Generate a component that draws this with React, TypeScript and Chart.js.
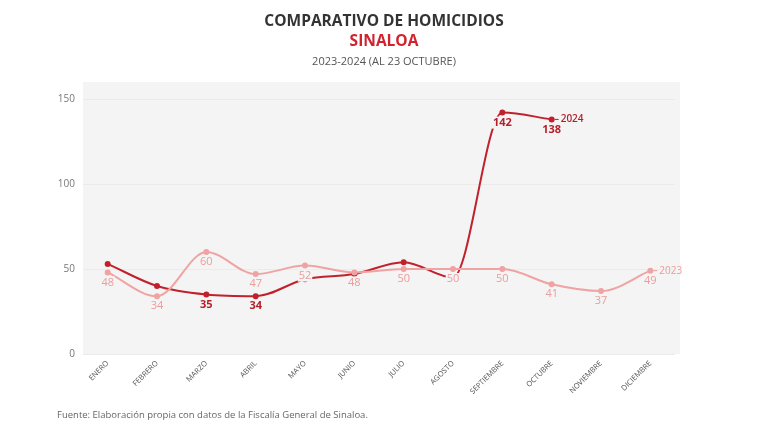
import React, { useEffect, useRef } from "react";
import { Chart, registerables } from "chart.js";

Chart.register(...registerables);

const months = ["ENERO", "FEBRERO", "MARZO", "ABRIL", "MAYO", "JUNIO", "JULIO", "AGOSTO", "SEPTIEMBRE", "OCTUBRE", "NOVIEMBRE", "DICIEMBRE"];
const values2024: (number | null)[] = [53, 40, 35, 34, 44, 47, 54, 45, 142, 138, null, null];
const values2023 = [48, 34, 60, 47, 52, 48, 50, 50, 50, 41, 37, 49];
const labeled2024 = [2, 3, 8, 9];
const yTicks = [0, 50, 100, 150];

const COLOR_2024 = "#c0212c";
const COLOR_2023 = "#f0a3a3";
const PLOT_BG = "#f4f4f4";
const FONT = "'Open Sans', 'Noto Sans', sans-serif";

const bgPlugin = {
  id: "plotBg",
  beforeDraw(chart: any) {
    const { ctx, chartArea } = chart;
    ctx.save();
    ctx.fillStyle = PLOT_BG;
    ctx.fillRect(chartArea.left, chartArea.top, chartArea.right - chartArea.left + 5, chartArea.bottom - chartArea.top);
    ctx.restore();
  },
};

const labelPlugin = {
  id: "valueLabels",
  afterDatasetsDraw(chart: any) {
    const { ctx } = chart;
    ctx.save();
    ctx.textAlign = "center";
    ctx.textBaseline = "middle";
    const drawLabel = (text: string, x: number, y: number, font: string, color: string) => {
      ctx.font = font;
      const w = ctx.measureText(text).width;
      ctx.fillStyle = PLOT_BG;
      ctx.fillRect(x - w / 2 - 1, y - 6, w + 2, 12);
      ctx.fillStyle = color;
      ctx.fillText(text, x, y);
    };
    const meta23 = chart.getDatasetMeta(0);
    meta23.data.forEach((pt: any, i: number) => {
      drawLabel(String(values2023[i]), pt.x, pt.y + 10, `11px ${FONT}`, "#eb9c9c");
    });
    const meta24 = chart.getDatasetMeta(1);
    labeled2024.forEach((i) => {
      const pt = meta24.data[i];
      const v = values2024[i];
      if (v == null) return;
      drawLabel(String(v), pt.x, pt.y + 10, `bold 11px ${FONT}`, "#b51f2a");
    });
    const endLabel = (meta: any, idx: number, text: string, color: string, bold: boolean) => {
      const pt = meta.data[idx];
      ctx.strokeStyle = color;
      ctx.lineWidth = 1;
      ctx.beginPath();
      ctx.moveTo(pt.x + 3, pt.y);
      ctx.lineTo(pt.x + 7, pt.y);
      ctx.stroke();
      ctx.font = `${bold ? "600 " : ""}10px ${FONT}`;
      ctx.textAlign = "left";
      ctx.fillStyle = color;
      ctx.fillText(text, pt.x + 9, pt.y);
    };
    endLabel(meta24, 9, "2024", "#b51f2a", true);
    endLabel(meta23, 11, "2023", "#eb9c9c", false);
    ctx.restore();
  },
};

export default function App() {
  const canvasRef = useRef<HTMLCanvasElement | null>(null);

  useEffect(() => {
    if (!canvasRef.current) return;
    const chart = new Chart(canvasRef.current, {
      type: "line",
      data: {
        labels: months,
        datasets: [
          {
            label: "2023",
            data: values2023,
            borderColor: COLOR_2023,
            backgroundColor: COLOR_2023,
            borderWidth: 2,
            pointRadius: 2,
            pointHoverRadius: 2,
            cubicInterpolationMode: "monotone",
          },
          {
            label: "2024",
            data: values2024,
            borderColor: COLOR_2024,
            backgroundColor: COLOR_2024,
            borderWidth: 2,
            pointRadius: 2,
            pointHoverRadius: 2,
            cubicInterpolationMode: "monotone",
          },
        ],
      },
      options: {
        responsive: false,
        animation: false,
        layout: { padding: { top: 82, right: 93, left: 0, bottom: 0 } },
        plugins: {
          legend: { display: false },
          tooltip: { enabled: false },
          title: { display: false },
        },
        scales: {
          x: {
            offset: true,
            grid: { display: false },
            border: { display: false },
            ticks: {
              minRotation: 45,
              maxRotation: 45,
              color: "#555",
              font: { size: 7.5, family: FONT },
              padding: -3,
              autoSkip: false,
            },
            afterFit(scale: any) {
              scale.height = 78;
            },
          },
          y: {
            min: 0,
            max: 160,
            border: { display: false },
            grid: { color: "#ebebeb", lineWidth: 1, drawTicks: false },
            ticks: {
              color: "#777",
              font: { size: 10, family: FONT },
              padding: 8,
            },
            afterBuildTicks(scale: any) {
              scale.ticks = yTicks.map((v) => ({ value: v }));
            },
            afterFit(scale: any) {
              scale.width = 83;
            },
          },
        },
      },
      plugins: [bgPlugin, labelPlugin],
    });
    return () => chart.destroy();
  }, []);

  return (
    <div style={{ position: "fixed", left: 0, top: 0, width: 768, height: 432, background: "#fff", fontFamily: FONT }}>
      <canvas ref={canvasRef} width={768} height={432} style={{ position: "absolute", left: 0, top: 0 }} />
      <div style={{ position: "absolute", left: 0, width: 768, top: 10, textAlign: "center", fontWeight: 700, fontSize: 15.5, color: "#333", lineHeight: "20px" }}>
        COMPARATIVO DE HOMICIDIOS
      </div>
      <div style={{ position: "absolute", left: 0, width: 768, top: 30, textAlign: "center", fontWeight: 700, fontSize: 15.5, color: "#d2222d", lineHeight: "20px" }}>
        SINALOA
      </div>
      <div style={{ position: "absolute", left: 0, width: 768, top: 53, textAlign: "center", fontSize: 11, color: "#555", lineHeight: "16px" }}>
        2023-2024 (AL 23 OCTUBRE)
      </div>
      <div style={{ position: "absolute", left: 57, top: 408, fontSize: 9.5, color: "#666", lineHeight: "14px" }}>
        Fuente: Elaboración propia con datos de la Fiscalía General de Sinaloa.
      </div>
    </div>
  );
}
